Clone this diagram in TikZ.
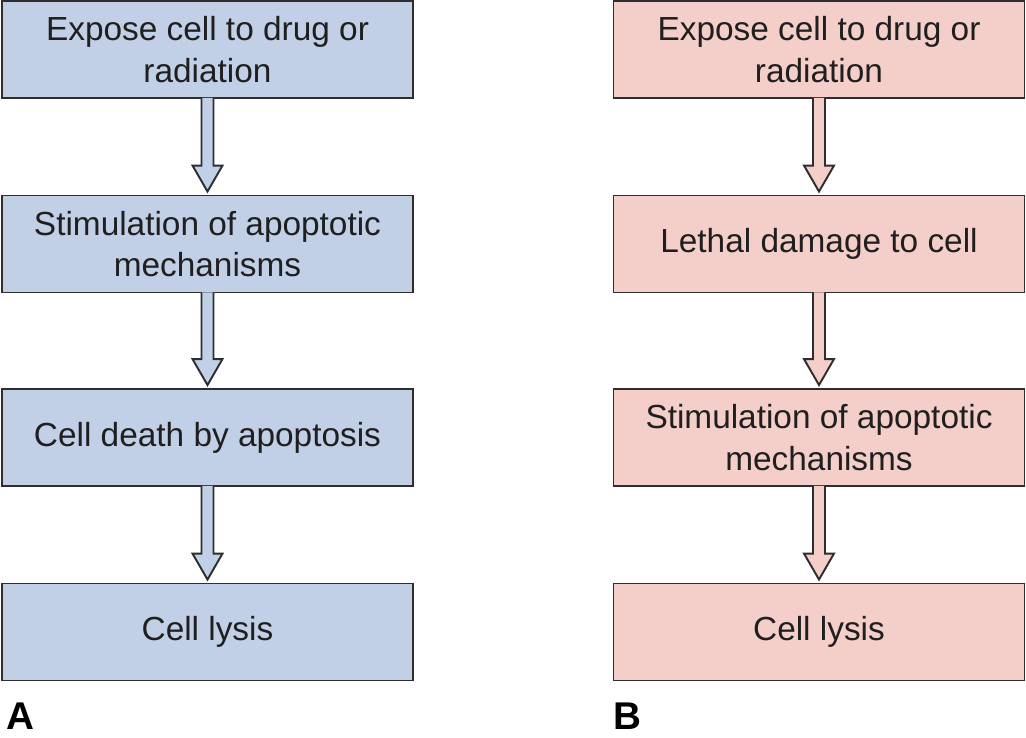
\documentclass[tikz,border=0pt]{standalone}
\usepackage{fontspec}
\setmainfont{Liberation Sans}
\usetikzlibrary{calc}

\newlength{\pxu}
\setlength{\pxu}{0.02cm}

\definecolor{boxblue}{HTML}{C2D0E7}
\definecolor{boxpink}{HTML}{F4CEC9}
\definecolor{edgegray}{HTML}{2E2E2E}

\begin{document}
\begin{tikzpicture}[x=\pxu, y=-\pxu, line width=1.1pt,
		stepbox/.style={draw=edgegray, minimum width=411\pxu, minimum height=97\pxu, align=center, inner sep=0pt,
			font=\fontsize{19}{23.5}\selectfont, text=black!88},
		blockarrow/.style={draw=edgegray, line join=miter},
		panel/.style={font=\fontsize{22}{26}\selectfont\bfseries, anchor=west, inner sep=0pt}]
	
	\useasboundingbox (0,0) rectangle (1026,737);
	
	% panel A
	\node[stepbox, fill=boxblue] (a1) at (207.5,49.5) {Expose cell to drug or\\radiation};
	\node[stepbox, fill=boxblue] (a2) at (207.5,244) {Stimulation of apoptotic\\mechanisms};
	\node[stepbox, fill=boxblue] (a3) at (207.5,437.5) {Cell death by apoptosis};
	\node[stepbox, fill=boxblue] (a4) at (207.5,632) {Cell lysis};
	
	% panel B
	\node[stepbox, fill=boxpink] (b1) at (819,49.5) {Expose cell to drug or\\radiation};
	\node[stepbox, fill=boxpink] (b2) at (819,244) {Lethal damage to cell};
	\node[stepbox, fill=boxpink] (b3) at (819,437.5) {Stimulation of apoptotic\\mechanisms};
	\node[stepbox, fill=boxpink] (b4) at (819,632) {Cell lysis};
	
	\foreach \a/\b/\c in {a1/a2/boxblue, a2/a3/boxblue, a3/a4/boxblue,
		b1/b2/boxpink, b2/b3/boxpink, b3/b4/boxpink} {
		\draw[blockarrow, fill=\c] ([xshift=-6\pxu, yshift=1\pxu]\a.south)
			-- ([xshift=-6\pxu, yshift=29\pxu]\b.north)
			-- ([xshift=-15\pxu, yshift=29\pxu]\b.north)
			-- ([yshift=3\pxu]\b.north)
			-- ([xshift=15\pxu, yshift=29\pxu]\b.north)
			-- ([xshift=6\pxu, yshift=29\pxu]\b.north)
			-- ([xshift=6\pxu, yshift=1\pxu]\a.south);
	}
	
	\node[panel] (labA) at (6,716) {A};
	\node[panel] (labB) at (613,716) {B};
	
\end{tikzpicture}
\end{document}
